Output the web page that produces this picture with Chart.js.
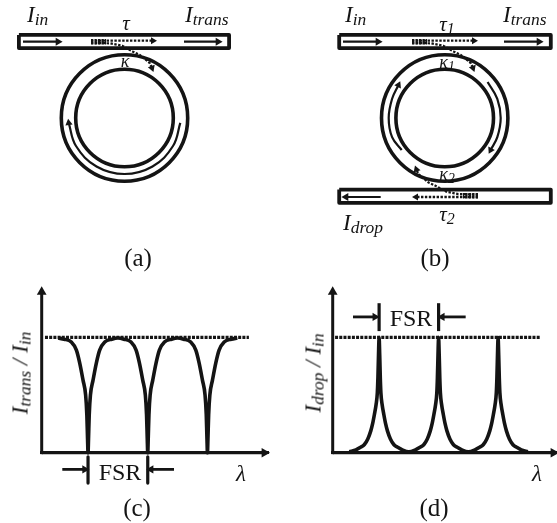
<!DOCTYPE html>
<html><head><meta charset="utf-8">
<script src="https://cdn.jsdelivr.net/npm/chart.js@4/dist/chart.umd.min.js"></script>
<style>
html,body{margin:0;padding:0;background:#fff;width:557px;height:523px;overflow:hidden}
canvas{position:absolute;filter:blur(.35px)}
.t{position:absolute;font-family:"Liberation Serif",serif;color:#141414;line-height:1;white-space:nowrap}
.i{font-style:italic}
.c{transform:translate(-50%,-50%)}
.r{transform:translate(-50%,-50%) rotate(-90deg)}
.t sub{font-size:.76em;vertical-align:baseline;position:relative;top:.2em;line-height:0}
</style></head><body>
<canvas id="top" width="557" height="270" style="left:0;top:0;width:557px;height:270px"></canvas>
<canvas id="c" width="280" height="253" style="left:0;top:270px;width:280px;height:253px"></canvas>
<canvas id="d" width="277" height="253" style="left:280px;top:270px;width:277px;height:253px"></canvas>

<div class="t i" style="left:27px;top:3px;font-size:23px">I<sub>in</sub></div>
<div class="t i" style="left:185px;top:3px;font-size:23px">I<sub>trans</sub></div>
<div class="t i c" style="left:126px;top:23px;font-size:21px">τ</div>
<div class="t i c" style="left:125px;top:61px;font-size:18px">κ</div>
<div class="t i" style="left:345px;top:3px;font-size:23px">I<sub>in</sub></div>
<div class="t i" style="left:503px;top:3px;font-size:23px">I<sub>trans</sub></div>
<div class="t i c" style="left:447px;top:24px;font-size:21px">τ<sub>1</sub></div>
<div class="t i c" style="left:447px;top:62px;font-size:18px">κ<sub>1</sub></div>
<div class="t i c" style="left:447px;top:174px;font-size:18px">κ<sub>2</sub></div>
<div class="t i c" style="left:447px;top:214px;font-size:21px">τ<sub>2</sub></div>
<div class="t i" style="left:343px;top:211px;font-size:23px">I<sub>drop</sub></div>
<div class="t c" style="left:138px;top:257px;font-size:25px">(a)</div>
<div class="t c" style="left:435px;top:257px;font-size:25px">(b)</div>
<div class="t c" style="left:137px;top:507px;font-size:25px">(c)</div>
<div class="t c" style="left:434px;top:507px;font-size:25px">(d)</div>
<div class="t c" style="left:120px;top:472px;font-size:24px">FSR</div>
<div class="t c" style="left:411px;top:318px;font-size:24px">FSR</div>
<div class="t i c" style="left:241px;top:473px;font-size:23px">λ</div>
<div class="t i c" style="left:537px;top:473px;font-size:23px">λ</div>
<div class="t i r" style="left:20px;top:373px;font-size:23px">I<sub>trans</sub> / I<sub>in</sub></div>
<div class="t i r" style="left:313px;top:373px;font-size:23px">I<sub>drop</sub> / I<sub>in</sub></div>

<script>
// ---- Diagram (a), (b): diagram coordinates ----
const guideAX=[18.9,229.1,229.1,18.9,18.9], guideAY=[34.9,34.9,48.1,48.1,34.9];
const guideB1X=[339.2,550.8,550.8,339.2,339.2], guideB1Y=[34.9,34.9,48.1,48.1,34.9];
const guideB2X=[339.2,550.8,550.8,339.2,339.2], guideB2Y=[189.6,189.6,202.8,202.8,189.6];
const ringCentresX=[124.5,444.7], ringCentresY=[118,118];

const arrowsStraight=[
 {x:[23,58],y:[41.7,41.7],rot:90},{x:[184,218],y:[41.7,41.7],rot:90},
 {x:[343,378],y:[41.7,41.7],rot:90},{x:[504,539],y:[41.7,41.7],rot:90},
 {x:[380.7,346],y:[197,197],rot:270}
];
const dotAX=[91,153], dotAY=[40.7,40.7];
const dotB1X=[412,474], dotB1Y=[40.7,40.7];
const dotB2X=[478,416], dotB2Y=[197,197];
const branchAX=[91,110,122,133,140,150,152], branchAY=[43,43.3,45.7,51.7,55,63.3,68];
const branchB1X=[412,431,443,454,461,471,473], branchB1Y=[43,43.3,45.7,51.7,55,63.3,68];
const branchB2X=[478,458.4,446.4,435.4,428.4,418.4,416.4], branchB2Y=[194.4,194.1,191.7,185.7,182.4,174.1,169.4];
const stubAX=[91,106], stubB1X=[412,427], stubB2X=[478,463];
const stubAY=[41.8,41.8], stubB1Y=[41.8,41.8], stubB2Y=[195.8,195.8];
const arcAX=[180.3,173,152.5,124.5,96.5,76,68.7], arcAY=[122.9,146,166.5,174,166.5,146,122.9];
const arcBRX=[487.6,497.3,500.7,497.3,490.6], arcBRY=[82,98.8,118,137.2,150.1];
const arcBLX=[401.7,392.1,388.7,392.1,398.5], arcBLY=[150,137.2,118,98.8,85];

// ---- Plot (c): wavelength in FSR units, normalised intensity ----
const transLambda=[.276,.376,.496,.581,.636,.692,.736,.756,.768,.776,.784,.796,.816,.86,.916,.971,1.056,1.176,1.276,
 1.376,1.496,1.581,1.636,1.692,1.736,1.756,1.768,1.776,1.784,1.796,1.816,1.86,1.916,1.971,2.056,2.176,2.276,
 2.376,2.496,2.581,2.636,2.692,2.736,2.756,2.768,2.776,2.784,2.796,2.816,2.86,2.916,2.971,3.056,3.176,3.276];
const transValues=[.995,.985,.96,.89,.78,.63,.5,.33,.12,0,.12,.33,.5,.63,.78,.89,.96,.985,.995,
 .985,.96,.89,.78,.63,.5,.33,.12,0,.12,.33,.5,.63,.78,.89,.96,.985,.995,
 .985,.96,.89,.78,.63,.5,.33,.12,0,.12,.33,.5,.63,.78,.89,.96,.985,.995];
// ---- Plot (d) ----
const dropLambda=[.28,.39,.46,.53,.59,.64,.67,.70,.73,.75,.76,.77,.78,.79,.80,.81,.83,.86,.89,.92,.97,1.03,1.10,1.17,1.28,
 1.39,1.46,1.53,1.59,1.64,1.67,1.70,1.73,1.75,1.76,1.77,1.78,1.79,1.80,1.81,1.83,1.86,1.89,1.92,1.97,2.03,2.10,2.17,2.28,
 2.39,2.46,2.53,2.59,2.64,2.67,2.70,2.73,2.75,2.76,2.77,2.78,2.79,2.80,2.81,2.83,2.86,2.89,2.92,2.97,3.03,3.10,3.17,3.28];
const dropValues=[.008,.025,.045,.07,.12,.19,.25,.33,.42,.52,.65,.85,1,.85,.65,.52,.42,.33,.25,.19,.12,.07,.045,.025,.008,
 .025,.045,.07,.12,.19,.25,.33,.42,.52,.65,.85,1,.85,.65,.52,.42,.33,.25,.19,.12,.07,.045,.025,.008,
 .025,.045,.07,.12,.19,.25,.33,.42,.52,.65,.85,1,.85,.65,.52,.42,.33,.25,.19,.12,.07,.045,.025,.008];

const cRefX=[.055,3.47], dRefX=[.04,3.49], refY=[1,1];
const cBars=[{x:[.776,.776],y:[-.035,-.263]},{x:[1.776,1.776],y:[-.035,-.263]}];
const cArrows=[{x:[.345,.72],y:[-.144,-.144],rot:90},{x:[2.216,1.83],y:[-.144,-.144],rot:270}];
const dBars=[{x:[.78,.78],y:[1.055,1.297]},{x:[1.78,1.78],y:[1.055,1.297]}];
const dArrows=[{x:[.341,.71],y:[1.178,1.178],rot:90},{x:[2.235,1.84],y:[1.178,1.178],rot:270}];

const INK='#141414';
const pts=(xs,ys)=>xs.map((x,i)=>({x,y:ys[i]}));
const line=(xs,ys,w,extra)=>Object.assign({type:'line',data:pts(xs,ys),borderColor:INK,borderWidth:w,pointRadius:0,fill:false,clip:false,borderJoinStyle:'round',tension:0},extra||{});
const arrow=(xs,ys,rot,w,r,extra)=>line(xs,ys,w,Object.assign({
  pointRadius:xs.map((_,i)=>i===xs.length-1?r:0),pointStyle:'triangle',pointRotation:rot,
  pointBackgroundColor:INK,pointBorderColor:INK,pointBorderWidth:0},extra||{}));
const DOT=[2.4,1.5];
function make(id,datasets,scales,padding){
  return new Chart(document.getElementById(id),{type:'scatter',data:{datasets},
    options:{responsive:false,animation:false,events:[],layout:{padding,autoPadding:false},
      plugins:{legend:{display:false},tooltip:{enabled:false},title:{display:false}},scales}});
}
const hidden=(min,max,reverse)=>({type:'linear',min,max,reverse:!!reverse,display:false});

const ring=(r)=>({type:'scatter',data:pts(ringCentresX,ringCentresY),pointRadius:r,pointBorderWidth:3.6,pointBorderColor:INK,pointBackgroundColor:'rgba(0,0,0,0)',showLine:false,clip:false});
make('top',[
  line(guideAX,guideAY,3.8),line(guideB1X,guideB1Y,3.8),line(guideB2X,guideB2Y,3.8),
  ring(63.2),ring(48.8),
  ...arrowsStraight.map(a=>arrow(a.x,a.y,a.rot,2.2,4.6)),
  arrow(dotAX,dotAY,90,2.3,4,{borderDash:DOT}),arrow(dotB1X,dotB1Y,90,2.3,4,{borderDash:DOT}),arrow(dotB2X,dotB2Y,270,2.3,4,{borderDash:DOT}),
  line(stubAX,stubAY,5.5,{borderDash:[2.2,1.3]}),line(stubB1X,stubB1Y,5.5,{borderDash:[2.2,1.3]}),line(stubB2X,stubB2Y,5.5,{borderDash:[2.2,1.3]}),
  arrow(branchAX,branchAY,160,2.2,4.2,{borderDash:DOT}),arrow(branchB1X,branchB1Y,160,2.2,4.2,{borderDash:DOT}),arrow(branchB2X,branchB2Y,340,2.2,4.2,{borderDash:DOT}),
  arrow(arcAX,arcAY,-8,2.2,4.2,{tension:.4}),arrow(arcBRX,arcBRY,207,2.2,4.2,{tension:.4}),arrow(arcBLX,arcBLY,25,2.2,4.2,{tension:.4})
],{x:hidden(0,557),y:hidden(0,270,true)},0);

function plotScales(xMax){return {
  x:{type:'linear',min:0,max:xMax,position:{y:0},grid:{display:false},ticks:{display:false},border:{display:true,color:INK,width:3}},
  y:{type:'linear',min:-.4,max:1.44,position:{x:0},grid:{display:false},ticks:{display:false},border:{display:false}}
};}
const axisHeads=(xTip)=>[
  arrow([0,0],[-.012,1.395],0,3,5.6),
  arrow([0,xTip],[0,0],90,3,5.6)
];
make('c',[
  line(cRefX,refY,3.2,{borderDash:[3,1.2]}),
  line(transLambda,transValues,3.6,{cubicInterpolationMode:'monotone'}),
  ...axisHeads(3.73),
  ...cBars.map(b=>line(b.x,b.y,3.2)),
  ...cArrows.map(a=>arrow(a.x,a.y,a.rot,2.8,4.8))
],plotScales(3.79),{left:41.7,right:12,top:16.7,bottom:24.1});
make('d',[
  line(dRefX,refY,3.2,{borderDash:[3,1.2]}),
  line(dropLambda,dropValues,3.6,{cubicInterpolationMode:'monotone'}),
  ...axisHeads(3.71),
  ...dBars.map(b=>line(b.x,b.y,3.2)),
  ...dArrows.map(a=>arrow(a.x,a.y,a.rot,2.8,4.8))
],plotScales(3.765),{left:52.7,right:.3,top:16.7,bottom:24.1});
</script>
</body></html>
